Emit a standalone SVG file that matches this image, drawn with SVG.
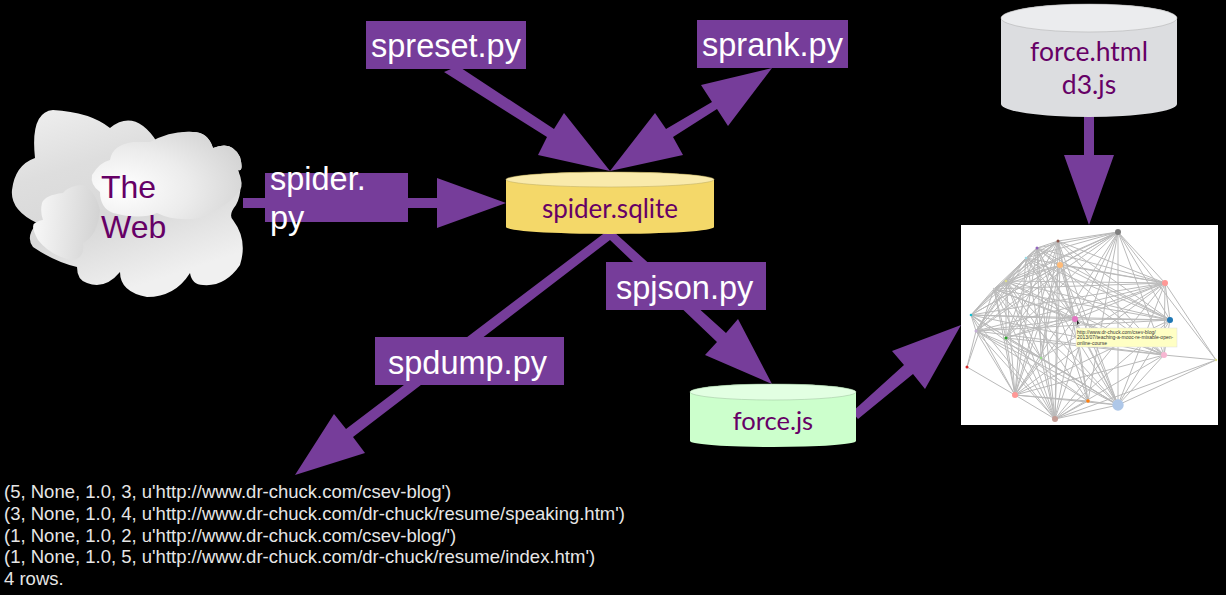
<svg xmlns="http://www.w3.org/2000/svg" width="1226" height="595" viewBox="0 0 1226 595">
<style>
.lbl{font-family:"Liberation Sans",Arial,sans-serif;font-size:32.500px;fill:#fff}
.nd{font-family:"Lato","Open Sans",sans-serif;fill:#660066}
.web{font-family:"Liberation Sans",Arial,sans-serif;font-size:32px;fill:#660066}
.out{font-family:"Liberation Sans",Arial,sans-serif;font-size:18.500px;fill:#e6e6e6}
.box{fill:#763d9a}
.ar{fill:#763d9a}
.edges{stroke:#bababa;stroke-width:1;fill:none}
</style>
<defs>
<linearGradient id="cl0" x1="0" y1="0" x2="0.4" y2="1"><stop offset="0" stop-color="#f0f0f0"/><stop offset="0.35" stop-color="#dedede"/><stop offset="0.65" stop-color="#d8d8d8"/><stop offset="1" stop-color="#f0f0f0"/></linearGradient>
<radialGradient id="cl2" cx="0.2" cy="0.65" r="0.9"><stop offset="0" stop-color="#ffffff"/><stop offset="0.5" stop-color="#ececec"/><stop offset="1" stop-color="#d2d2d2"/></radialGradient>
<linearGradient id="cl3" x1="0" y1="0.5" x2="1" y2="0.6"><stop offset="0" stop-color="#f8f8f8"/><stop offset="1" stop-color="#d2d2d2"/></linearGradient>
</defs>
<rect width="1226" height="595" fill="#000"/>

<g id="connectors">
<polygon class="ar" points="243,198 437,198 437,178 506,203 437,228 437,208 243,208"/>
<polygon class="ar" points="444,72 458,66 554,129 564,113 610,171 538,155 547,137"/>
<polygon class="ar" points="772,68 701,85 712,102 666,129 655,113 610,171 683,155 673,137 717,109 728,126"/>
<polygon class="ar" points="1084,112 1094,112 1094,155 1114,155 1089,225 1064,155 1084,155"/>
<polygon class="ar" points="607,231 610,234 613,231 726,333 738,319 772,384 705,355 717,342 610,240 353,437 365,453 295,475 334,414 346,429"/>
<polygon class="ar" points="852,412 904,365 892,351 961,325 925,389 913,374 858,419"/>
</g>

<g id="cloud">
<path d="M35,158 Q30,112 53,110 Q90,112 110,128 Q135,108 157,142 Q180,130 193,132 Q208,132 213,148 Q232,140 240,157 Q244,172 238,170 Q244,190 236,205 Q228,215 233,220 Q248,240 240,265 Q225,287 203,285 Q192,285 190,273 Q175,297 147,297 Q120,292 120,272 Q105,290 87,283 Q77,280 77,267 Q55,262 33,247 Q25,237 37,223 Q10,210 12,190 Q15,165 35,158Z" fill="url(#cl0)"/>
<path d="M92,175 Q100,162 110,160 Q112,145 133,142 L150,142 Q172,130 193,132 Q208,132 213,148 Q232,140 240,157 Q244,172 238,170 Q244,185 240,190 Q230,205 200,218 Q175,222 157,213 Q140,220 113,213 Q100,208 100,192 Q90,185 92,175Z" fill="url(#cl2)"/>
<path d="M42,203 Q45,195 63,193 Q70,185 83,185 Q95,190 100,210 Q98,235 83,243 Q85,260 70,260 Q50,255 38,240 Q30,225 35,223 Q40,220 43,220 Q40,212 42,203Z" fill="url(#cl3)"/>
<text class="web" x="101" y="198">The</text>
<text class="web" x="101" y="238">Web</text>
</g>

<g id="spider-label">
<rect class="box" x="265" y="173" width="143" height="49"/>
<text class="lbl" x="270" y="190">spider.</text>
<text class="lbl" x="270" y="229">py</text>
</g>
<g id="spreset">
<rect class="box" x="366" y="21" width="160" height="48"/>
<text class="lbl" x="371" y="57">spreset.py</text>
</g>
<g id="sprank">
<rect class="box" x="697" y="20" width="151" height="48"/>
<text class="lbl" x="702" y="56">sprank.py</text>
</g>
<g id="spjson">
<rect class="box" x="606" y="262" width="160" height="48"/>
<text class="lbl" x="616" y="299">spjson.py</text>
</g>
<g id="spdump">
<rect class="box" x="375" y="337" width="189" height="48"/>
<text class="lbl" x="388" y="374">spdump.py</text>
</g>

<g id="spider-sqlite">
<path d="M506,180 A104,8 0 0 1 714,180 V227 A104,7 0 0 1 506,227Z" fill="#f4d869"/>
<ellipse cx="610" cy="179.500" rx="104" ry="7.500" fill="#f9eaab" stroke="#b8a860" stroke-width="0.5"/>
<text class="nd" x="610" y="218" font-size="26" text-anchor="middle">spider.sqlite</text>
</g>

<g id="force-html">
<path d="M1001,18 A88,14 0 0 1 1177,18 V104 A88,13 0 0 1 1001,104Z" fill="#dcdde0"/>
<ellipse cx="1089" cy="18" rx="88" ry="14" fill="#ebecee" stroke="#aaa" stroke-width="0.5"/>
<text class="nd" x="1089" y="61" font-size="26.500" text-anchor="middle">force.html</text>
<text class="nd" x="1089" y="94" font-size="26.500" text-anchor="middle">d3.js</text>
</g>

<g id="force-js">
<path d="M690,392 A83,8 0 0 1 856,392 V441 A83,6 0 0 1 690,441Z" fill="#ccffcc"/>
<ellipse cx="773" cy="392" rx="83" ry="8" fill="#e2ffe2" stroke="#9bbf9b" stroke-width="0.5"/>
<text class="nd" x="773" y="430" font-size="25.500" text-anchor="middle">force.js</text>
</g>

<g id="graph">
<rect x="961" y="225" width="257" height="200" fill="#fff"/>
<path class="edges" d="M1118,232L1058,241M1118,232L1037,248M1118,232L1026,258M1118,232L1060,265M1118,232L1006,281M1118,232L994,289M1118,232L1165,283M1118,232L971,315M1118,232L976,331M1118,232L1075,319M1118,232L1170,320M1118,232L1006,338M1118,232L1164,355M1118,232L1216,360M1118,232L1015,395M1118,232L1088,401M1118,232L1118,405M1118,232L1055,419
M1118,405L1058,241M1118,405L1037,248M1118,405L1026,258M1118,405L1060,265M1118,405L1006,281M1118,405L994,289M1118,405L1165,283M1118,405L971,315M1118,405L976,331M1118,405L1075,319M1118,405L1170,320M1118,405L1006,338M1118,405L1041,358M1118,405L1164,355M1118,405L1216,360M1118,405L1015,395M1118,405L1088,401M1118,405L1055,419
M1055,419L1058,241M1055,419L1037,248M1055,419L1026,258M1055,419L1060,265M1055,419L1006,281M1055,419L994,289M1055,419L1165,283M1055,419L971,315M1055,419L976,331M1055,419L1075,319M1055,419L1170,320M1055,419L1006,338M1055,419L1041,358M1055,419L1164,355M1055,419L1216,360M1055,419L1015,395M1055,419L1088,401
M1015,395L1058,241M1015,395L1037,248M1015,395L1026,258M1015,395L1060,265M1015,395L1006,281M1015,395L994,289M1015,395L1165,283M1015,395L971,315M1015,395L976,331M1015,395L1075,319M1015,395L1170,320M1015,395L1006,338M1015,395L1041,358M1015,395L1164,355M1015,395L967,367M1015,395L1088,401
M1165,283L1058,241M1165,283L1037,248M1165,283L1026,258M1165,283L1060,265M1165,283L1006,281M1165,283L994,289M1165,283L971,315M1165,283L976,331M1165,283L1075,319M1165,283L1170,320M1165,283L1006,338M1165,283L1041,358M1165,283L1164,355M1165,283L1216,360
M1170,320L1058,241M1170,320L1037,248M1170,320L1026,258M1170,320L1060,265M1170,320L1006,281M1170,320L994,289M1170,320L971,315M1170,320L976,331M1170,320L1075,319M1170,320L1164,355
M1164,355L1058,241M1164,355L1037,248M1164,355L1026,258M1164,355L1006,281M1164,355L994,289M1164,355L971,315M1164,355L976,331M1164,355L1075,319M1164,355L1216,360M1164,355L1006,338
M971,315L1058,241M971,315L1037,248M971,315L1026,258M971,315L1060,265M971,315L1006,281M971,315L976,331M971,315L1075,319M971,315L1041,358
M976,331L1058,241M976,331L1037,248M976,331L1026,258M976,331L1060,265M976,331L1006,281M976,331L1075,319M976,331L967,367M976,331L1041,358
M1075,319L1058,241M1075,319L1037,248M1075,319L1026,258M1075,319L1006,281M1075,319L994,289M1075,319L1060,265M1075,319L1006,338
M1006,281L1058,241M1006,281L1037,248M1006,281L1026,258M1006,281L994,289M1006,281L1006,338M1006,281L1060,265
M994,289L1058,241M994,289L1037,248M994,289L1060,265M994,289L1006,338M994,289L971,315M994,289L967,367
M1006,338L1058,241M1006,338L1037,248M1006,338L1060,265
M1041,358L1058,241M1041,358L1037,248M1041,358L1060,265M1041,358L1006,281M1041,358L994,289
M1088,401L1058,241M1088,401L1037,248M1088,401L1006,281M1088,401L971,315M1088,401L976,331M1088,401L1075,319
M1058,241L1037,248M1058,241L1026,258M1037,248L1026,258M1058,241L1060,265M1037,248L1060,265"/>
<circle cx="1118" cy="232" r="3" fill="#7f7f7f"/>
<circle cx="1058" cy="241" r="1.500" fill="#8c564b"/>
<circle cx="1037" cy="248" r="1.500" fill="#9467bd"/>
<circle cx="1026" cy="258" r="1.300" fill="#9edae5"/>
<circle cx="1060" cy="265" r="3" fill="#ffbb78"/>
<circle cx="1006" cy="281" r="1.300" fill="#dbdb8d"/>
<circle cx="994" cy="289" r="1.200" fill="#c7c7c7"/>
<circle cx="1165" cy="283" r="3" fill="#ff9896"/>
<circle cx="971" cy="315" r="1.300" fill="#17becf"/>
<circle cx="976" cy="331" r="1.500" fill="#c5b0d5"/>
<circle cx="1075" cy="319" r="3" fill="#e377c2"/>
<circle cx="1170" cy="320" r="3" fill="#1f77b4"/>
<circle cx="1006" cy="338" r="1.600" fill="#2ca02c"/>
<circle cx="1041" cy="358" r="1.200" fill="#98df8a"/>
<circle cx="967" cy="367" r="1.500" fill="#d62728"/>
<circle cx="1164" cy="355" r="3" fill="#f7b6d2"/>
<circle cx="1216" cy="360" r="1.200" fill="#dbdb8d"/>
<circle cx="1015" cy="395" r="3" fill="#ff9896"/>
<circle cx="1088" cy="401" r="1.800" fill="#ff7f0e"/>
<circle cx="1118" cy="405" r="5.700" fill="#aec7e8"/>
<circle cx="1055" cy="419" r="3" fill="#c49c94"/>
<polygon points="1077,320 1077,325 1078.500,323.500 1080,324" fill="#222"/>
<rect x="1076" y="328" width="101" height="19" fill="#ffffc4" stroke="#ddd" stroke-width="0.5"/>
<text font-family="Liberation Sans,Arial,sans-serif" font-size="5" fill="#333"><tspan x="1077" y="333.500">http://www.dr-chuck.com/csev-blog/</tspan><tspan x="1077" y="339">2013/07/teaching-a-mooc-re-mixable-open-</tspan><tspan x="1077" y="344.500">online-course</tspan></text>
</g>

<g id="output">
<text class="out" x="4" y="498">(5, None, 1.0, 3, u'http://www.dr-chuck.com/csev-blog')</text>
<text class="out" x="4" y="520">(3, None, 1.0, 4, u'http://www.dr-chuck.com/dr-chuck/resume/speaking.htm')</text>
<text class="out" x="4" y="541.500">(1, None, 1.0, 2, u'http://www.dr-chuck.com/csev-blog/')</text>
<text class="out" x="4" y="563">(1, None, 1.0, 5, u'http://www.dr-chuck.com/dr-chuck/resume/index.htm')</text>
<text class="out" x="4" y="585">4 rows.</text>
</g>
</svg>
